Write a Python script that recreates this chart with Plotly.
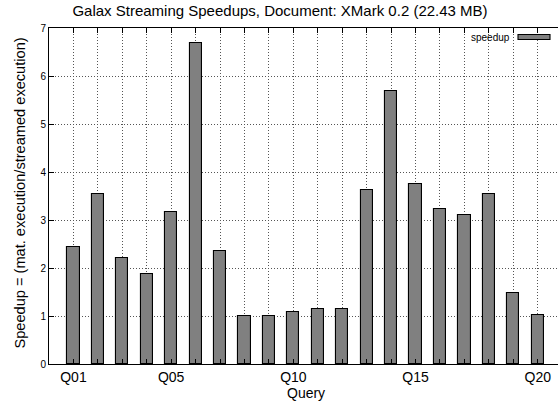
import plotly.graph_objects as go

queries = ["Q%02d" % i for i in range(1, 21)]
positions = list(range(1, 21))
speedup = [2.44, 3.54, 2.21, 1.88, 3.17, 6.68, 2.35, 1.01, 1.00, 1.09,
           1.15, 1.15, 3.62, 5.68, 3.75, 3.23, 3.10, 3.54, 1.48, 1.03]
tick_labels = [q if (i + 1) in (1, 5, 10, 15, 20) else "" for i, q in enumerate(queries)]
y_ticks = [0, 1, 2, 3, 4, 5, 6, 7]

font = "Liberation Sans, Arial, Helvetica, sans-serif"

L, R, T, B = 49, 558, 28, 364
W = R - L
H = B - T

fig = go.Figure()
fig.add_trace(go.Bar(
    x=positions, y=speedup, width=0.5, name="speedup",
    marker=dict(color="#808080", line=dict(color="black", width=1.1)),
    showlegend=False, hoverinfo="skip",
))

fig.update_layout(
    width=558, height=402,
    margin=dict(l=L, r=558 - R, t=T, b=402 - B, autoexpand=False),
    paper_bgcolor="white", plot_bgcolor="white",
    font=dict(family=font, color="black"),
    title=dict(text="Galax Streaming Speedups, Document: XMark 0.2 (22.43 MB)",
               x=280 / 558, xanchor="center", xref="container", y=1 - 11 / 402, yanchor="middle",
               font=dict(size=15, family=font)),
    bargap=0,
)
fig.update_xaxes(
    range=[0, 20.83], tickmode="array", tickvals=positions, ticktext=tick_labels,
    ticks="inside", ticklen=5, tickcolor="black", tickwidth=1,
    showline=True, linecolor="black", linewidth=1, mirror="ticks",
    showgrid=True, gridcolor="#555555", griddash="1px,2px", gridwidth=1,
    tickfont=dict(size=14), zeroline=False, automargin=False,
)
fig.update_yaxes(
    range=[0, 7], tickmode="array", tickvals=y_ticks,
    ticks="inside", ticklen=5, tickcolor="black", tickwidth=1,
    showline=True, linecolor="black", linewidth=1, mirror=False,
    showgrid=True, gridcolor="#555555", griddash="1px,2px", gridwidth=1,
    tickfont=dict(size=10), zeroline=False, automargin=False,
)

# axis titles
fig.add_annotation(xref="paper", yref="paper", x=(306 - L) / W, y=-(393 - B) / H,
                   text="Query", showarrow=False, xanchor="center", yanchor="middle",
                   font=dict(size=14, family=font))
fig.add_annotation(xref="paper", yref="paper", x=-(L - 19) / W, y=(B - 193.5) / H,
                   text="Speedup = (mat. execution/streamed execution)", textangle=-90,
                   showarrow=False, xanchor="center", yanchor="middle",
                   font=dict(size=14.6, family=font))

# legend entry (gnuplot style key)
fig.add_annotation(xref="paper", yref="paper", x=(512 - L) / W, y=(B - 37) / H,
                   text="speedup", showarrow=False, xanchor="right", yanchor="middle",
                   font=dict(size=10, family=font))
fig.add_shape(type="rect", xref="paper", yref="paper",
              x0=(518 - L) / W, x1=(550 - L) / W,
              y0=(B - 39.5) / H, y1=(B - 34.5) / H,
              fillcolor="#808080", line=dict(color="black", width=1.1))

fig.write_html("out.html", config={"displayModeBar": False},
               post_script="document.body.style.margin='0';document.body.style.overflow='hidden';")
